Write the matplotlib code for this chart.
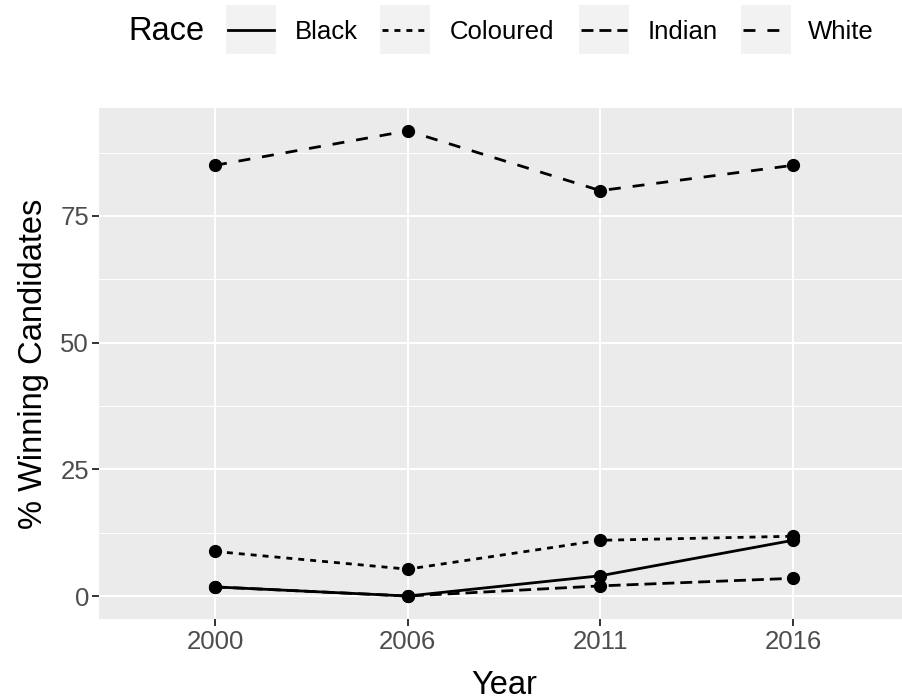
import matplotlib
matplotlib.use("Agg")
import matplotlib.pyplot as plt
from matplotlib.patches import Rectangle
from matplotlib.lines import Line2D
from matplotlib.ticker import MultipleLocator

years = ["2000", "2006", "2011", "2016"]
races = ["Black", "Coloured", "Indian", "White"]
black = [1.8, 0.0, 4.0, 11.0]
coloured = [8.8, 5.3, 11.0, 11.8]
indian = [1.8, 0.0, 2.0, 3.5]
white = [85.0, 91.8, 80.0, 85.0]
yticks = [0, 25, 50, 75]

# ggplot-like linetypes, dash lengths in points (not scaled by lw)
STYLES = {
    "Black": "-",
    "Coloured": (0, (4.3, 4.3)),
    "Indian": (0, (8.6, 4.3)),
    "White": (0, (8.6, 8.6)),
}
PANEL = "#EBEBEB"
KEYBG = "#F2F2F2"
TXT = "#4D4D4D"
FONT = "Liberation Sans"
SMALL, BIG = 18.5, 23.5

plt.rcParams.update({
    "font.family": FONT,
    "lines.scale_dashes": False,
    "lines.dash_capstyle": "butt",
})

fig = plt.figure(figsize=(9.02, 7.00), dpi=100)
ax = fig.add_axes([0.1102, 0.1153, 0.8971, 0.731])
ax.set_facecolor(PANEL)
for s in ax.spines.values():
    s.set_visible(False)

x = list(range(len(years)))
series = {"Black": black, "Coloured": coloured, "Indian": indian, "White": white}
for name in races:
    ax.plot(x, series[name], color="black", lw=2.0, ls=STYLES[name], zorder=3)
for name in races:
    ax.plot(x, series[name], color="black", lw=0, marker="o", ms=8.5, zorder=4)

ax.set_xlim(-0.6, 3.6)
ax.set_ylim(-4.59, 96.39)
ax.set_xticks(x)
ax.set_xticklabels(years)
ax.set_yticks(yticks)
ax.yaxis.set_minor_locator(MultipleLocator(12.5))
ax.grid(True, which="major", color="white", lw=1.5, zorder=0)
ax.grid(True, which="minor", axis="y", color="white", lw=0.75, zorder=0)
ax.set_axisbelow(True)
ax.tick_params(axis="both", which="major", length=5, width=1.4, color="#333333",
               labelsize=SMALL, labelcolor=TXT, pad=2.5)
ax.tick_params(axis="y", which="minor", length=0)
ax.set_xlabel("Year", fontsize=BIG, labelpad=12)
ax.set_ylabel("% Winning Candidates", fontsize=BIG, labelpad=8)

# legend at the top, drawn in figure pixels
lg = fig.add_axes([0, 0, 1, 1], facecolor="none")
lg.set_xlim(0, 902)
lg.set_ylim(700, 0)
lg.axis("off")
lg.text(128, 32, "Race", fontsize=BIG, va="center", ha="left")
key_x = [226, 380, 579, 741]
lab_x = [295, 450, 648, 808]
for name, kx, tx in zip(races, key_x, lab_x):
    lg.add_patch(Rectangle((kx, 5), 50, 49, color=KEYBG, lw=0))
    lg.add_line(Line2D([kx + 2, kx + 48], [30, 30], color="black", lw=2.0,
                       ls=STYLES[name]))
    lg.text(tx, 32, name, fontsize=SMALL, va="center", ha="left")

fig.savefig("out.png", dpi=100)
